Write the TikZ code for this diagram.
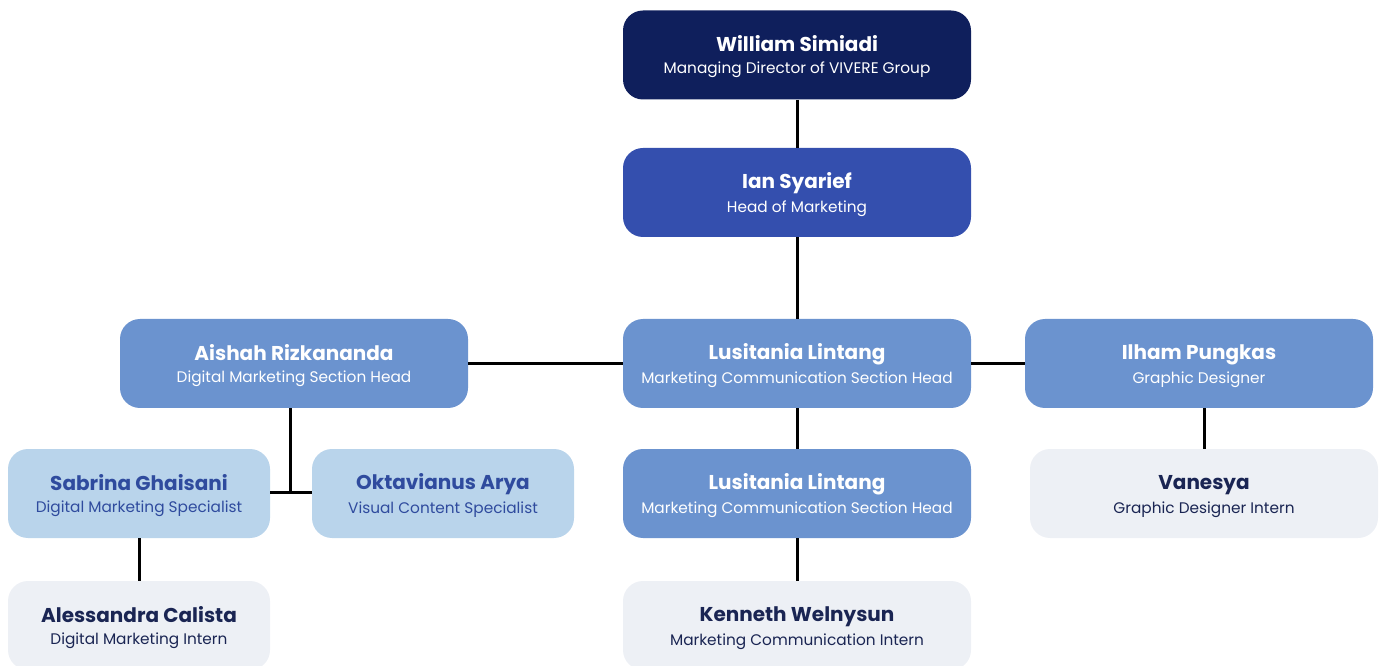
\documentclass[tikz,border=0pt]{standalone}
\usepackage{fontspec}
\setmainfont{Poppins}
\definecolor{topnavy}{HTML}{0F1F5C}
\definecolor{headblue}{HTML}{344FAE}
\definecolor{sectblue}{HTML}{6B93CF}
\definecolor{specblue}{HTML}{B9D4EB}
\definecolor{specink}{HTML}{2F4B9E}
\definecolor{interngray}{HTML}{EDF0F5}
\definecolor{internink}{HTML}{1A2553}
\newcommand{\orgentry}[2]{{\fontsize{15}{18}\selectfont\bfseries\rule{0pt}{15pt}#1}\\[4.5pt]{\fontsize{11.5}{14}\selectfont #2}}

\begin{document}
\begin{tikzpicture}[x=0.75pt,y=0.75pt,yscale=-1,xscale=1,
  box/.style={rounded corners=15pt,minimum width=261pt,minimum height=66.75pt,align=center,inner sep=0pt},
  narrowbox/.style={box,minimum width=196.5pt},
  topbox/.style={fill=topnavy,text=white},
  headbox/.style={fill=headblue,text=white},
  sectbox/.style={fill=sectblue,text=white},
  specbox/.style={fill=specblue,text=specink},
  internbox/.style={fill=interngray,text=internink},
  link/.style={line width=2.25pt,black}]
\useasboundingbox (0,0) rectangle (1385,666);
\node [box,topbox] (ws) at (797,55) {\orgentry{William Simiadi}{Managing Director of VIVERE Group}};
\node [box,headbox] (is) at (797,192.5) {\orgentry{Ian Syarief}{Head of Marketing}};
\node [box,sectbox] (ar) at (294,363.5) {\orgentry{Aishah Rizkananda}{Digital Marketing Section Head}};
\node [box,sectbox] (ll) at (797,363.5) {\orgentry{Lusitania Lintang}{Marketing Communication Section Head}};
\node [box,sectbox] (ip) at (1199,363.5) {\orgentry{Ilham Pungkas}{Graphic Designer}};
\node [narrowbox,specbox] (sg) at (139,493.5) {\orgentry{Sabrina Ghaisani}{Digital Marketing Specialist}};
\node [narrowbox,specbox] (oa) at (443,493.5) {\orgentry{Oktavianus Arya}{Visual Content Specialist}};
\node [box,sectbox] (ll2) at (797,493.5) {\orgentry{Lusitania Lintang}{Marketing Communication Section Head}};
\node [box,internbox] (va) at (1204,493.5) {\orgentry{Vanesya}{Graphic Designer Intern}};
\node [narrowbox,internbox] (ac) at (139,625.5) {\orgentry{Alessandra Calista}{Digital Marketing Intern}};
\node [box,internbox] (kw) at (797,625.5) {\orgentry{Kenneth Welnysun}{Marketing Communication Intern}};
\coordinate (aj) at (290,492);
\draw [link] (ws) -- (is);
\draw [link] (is) -- (ll);
\draw [link] (ar) -- (ll);
\draw [link] (ll) -- (ip);
\draw [link] (ll) -- (ll2);
\draw [link] (ll2) -- (kw);
\draw [link] (va.north |- ip.south) -- (va);
\draw [link] (ar.south -| aj) -- (aj);
\draw [link] (sg.east |- aj) -- (oa.west |- aj);
\draw [link] (sg) -- (ac);
\end{tikzpicture}
\end{document}
